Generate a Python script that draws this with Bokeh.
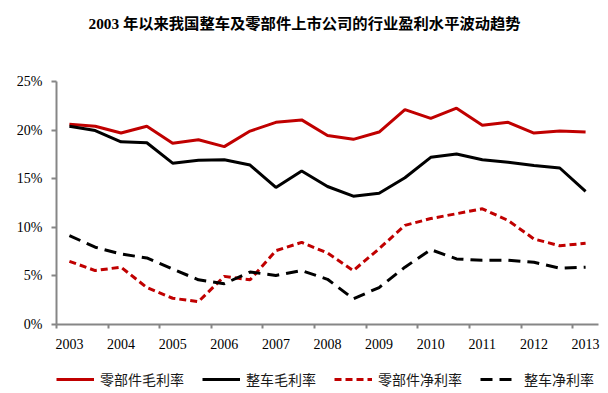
from bokeh.plotting import figure
from bokeh.models import Range1d, FixedTicker, Legend, LegendItem, ColumnDataSource, Title
from bokeh.layouts import column
from bokeh.embed import file_html
from bokeh.resources import INLINE

# ---- data (percent), half-yearly from 2003 H1 to 2013 H1 ----
periods = ["2003H1", "2003H2", "2004H1", "2004H2", "2005H1", "2005H2",
           "2006H1", "2006H2", "2007H1", "2007H2", "2008H1", "2008H2",
           "2009H1", "2009H2", "2010H1", "2010H2", "2011H1", "2011H2",
           "2012H1", "2012H2", "2013H1"]
year_labels = ["2003", "2004", "2005", "2006", "2007", "2008",
               "2009", "2010", "2011", "2012", "2013"]
parts_gross = [20.6, 20.4, 19.7, 20.4, 18.65, 19.0, 18.3, 19.9, 20.8, 21.05,
               19.45, 19.05, 19.8, 22.1, 21.2, 22.25, 20.5, 20.8, 19.7, 19.9, 19.8]
oem_gross = [20.4, 19.95, 18.8, 18.7, 16.6, 16.9, 16.95, 16.4, 14.1, 15.8,
             14.2, 13.2, 13.5, 15.1, 17.2, 17.55, 16.95, 16.7, 16.35, 16.1, 13.7]
parts_net = [6.5, 5.55, 5.9, 3.8, 2.7, 2.35, 4.95, 4.6, 7.6, 8.45,
             7.35, 5.55, 7.8, 10.2, 10.9, 11.4, 11.9, 10.7, 8.8, 8.1, 8.35]
oem_net = [9.15, 7.95, 7.25, 6.85, 5.7, 4.6, 4.2, 5.4, 5.05, 5.55,
           4.65, 2.65, 3.8, 5.9, 7.7, 6.75, 6.6, 6.6, 6.4, 5.8, 5.9]
series_names = ["零部件毛利率", "整车毛利率", "零部件净利率", "整车净利率"]
y_ticks = [0, 5, 10, 15, 20, 25]

title_text = "2003 年以来我国整车及零部件上市公司的行业盈利水平波动趋势"

x = list(range(len(periods)))
src = ColumnDataSource(dict(x=x, pg=parts_gross, og=oem_gross, pn=parts_net, on=oem_net))

RED = "#C00000"
BLACK = "#000000"
AXIS = "#868686"
SERIF = "Liberation Serif"
styles = [dict(line_color=RED, line_width=3),
          dict(line_color=BLACK, line_width=3),
          dict(line_color=RED, line_width=3, line_dash="7 4"),
          dict(line_color=BLACK, line_width=3, line_dash="12 7")]

# ---------------- main chart ----------------
p = figure(width=608, height=358, output_backend="svg", toolbar_location=None,
           x_range=Range1d(-0.5, len(periods) - 0.5), y_range=Range1d(0, 25),
           min_border_left=56, min_border_right=10, min_border_top=81,
           min_border_bottom=34, background_fill_color="white",
           border_fill_color="white")
p.outline_line_color = None
p.grid.visible = False

p.title.text = title_text
p.title.align = "left"
p.title.offset = 32
p.title.vertical_align = "bottom"
p.title.standoff = 10
p.title.text_font = "Liberation Serif, Noto Sans CJK SC"
p.title.text_font_style = "bold"
p.title.text_font_size = "15.3px"
p.title.text_color = "#000000"

# empty spacer panel between the title and the plot frame
p.add_layout(Title(text=" ", text_font_size="1px", standoff=42), "above")

for col, st in zip(["pg", "og", "pn", "on"], styles):
    p.line("x", col, source=src, **st)

# x axis: labels on every other category, tick marks on category boundaries
major = list(range(0, len(periods), 2))
minor = [m - 0.5 for m in major]
xa = p.xaxis[0]
xa.ticker = FixedTicker(ticks=major, minor_ticks=minor)
xa.major_label_overrides = {m: lab for m, lab in zip(major, year_labels)}
xa.major_tick_out = 0
xa.major_tick_in = 0
xa.minor_tick_out = 4
xa.minor_tick_in = 0
xa.minor_tick_line_color = AXIS
xa.minor_tick_line_width = 2
xa.axis_line_color = AXIS
xa.axis_line_width = 2
xa.major_label_text_font = SERIF
xa.major_label_text_font_size = "14px"
xa.major_label_text_color = "#000000"
xa.major_label_standoff = 10

ya = p.yaxis[0]
ya.ticker = FixedTicker(ticks=y_ticks, minor_ticks=[])
ya.major_label_overrides = {t: f"{t}%" for t in y_ticks}
ya.major_tick_out = 5
ya.major_tick_in = 0
ya.major_tick_line_color = AXIS
ya.major_tick_line_width = 2
ya.minor_tick_out = 0
ya.minor_tick_in = 0
ya.axis_line_color = AXIS
ya.axis_line_width = 2
ya.major_label_text_font = SERIF
ya.major_label_text_font_size = "14px"
ya.major_label_text_color = "#000000"
ya.major_label_standoff = 9

# ---------------- legend strip ----------------
p2 = figure(width=608, height=35, output_backend="svg", toolbar_location=None,
            x_range=Range1d(0, 1), y_range=Range1d(0, 1),
            x_axis_location=None, y_axis_location=None,
            min_border_left=0, min_border_right=0, min_border_top=0,
            min_border_bottom=0, background_fill_color="white",
            border_fill_color="white")
p2.outline_line_color = None
p2.grid.visible = False
# legend-only key renderers (a single NaN point: nothing is drawn in the strip)
keys = [p2.line(x=[0.5], y=[float("nan")], **st) for st in styles]

legend = Legend(items=[LegendItem(label=n, renderers=[r]) for n, r in zip(series_names, keys)],
                orientation="horizontal", location=(0, 4),
                glyph_width=38, glyph_height=18, label_standoff=6, spacing=18,
                label_height=18, padding=0, margin=0,
                border_line_alpha=0, background_fill_alpha=0,
                label_text_font="Noto Sans CJK SC", label_text_font_size="14px",
                label_text_color="#1a1a1a")
p2.add_layout(legend)

page = column(p, p2, spacing=0)
open("out.html", "w").write(file_html(page, INLINE))
